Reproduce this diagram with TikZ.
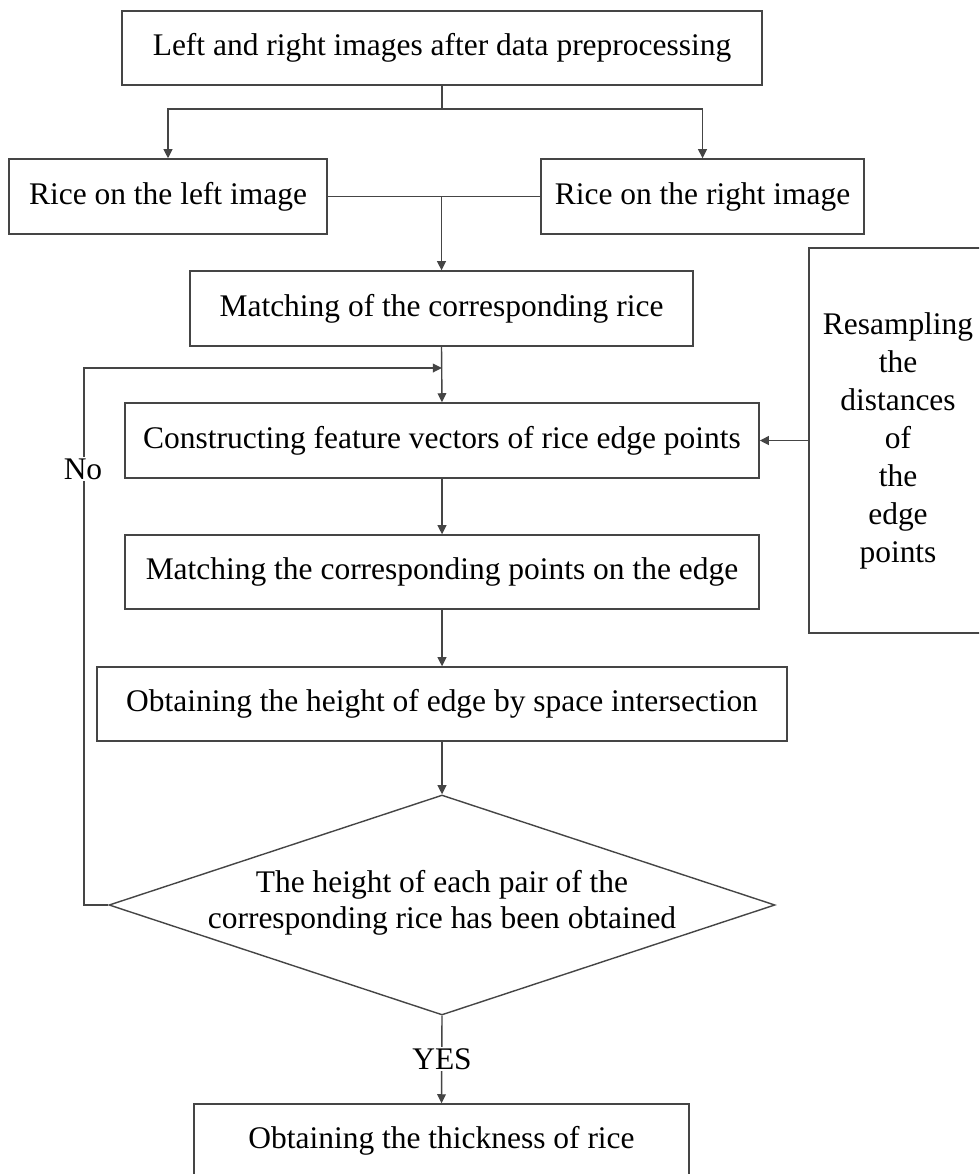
\documentclass[tikz,border=0pt]{standalone}
\usepackage{fontspec}
\setmainfont{Liberation Serif}
\usetikzlibrary{arrows.meta,shapes.geometric}
\definecolor{linegray}{HTML}{454545}
\begin{document}
\begin{tikzpicture}[x=0.75pt,y=-0.75pt,
  every node/.style={font=\fontsize{23.6pt}{28.5pt}\selectfont, text=black},
  box/.style={draw=linegray, line width=1.05pt, inner sep=0pt, minimum height=55.5pt, align=center},
  conn/.style={draw=linegray, line width=1.05pt},
  arr/.style={conn, -{Triangle[length=6.8pt,width=6.5pt]}},
  lbl/.style={fill=white, inner sep=1pt}]
\clip (0,0) rectangle (979,1174);
\fill[white] (0,0) rectangle (979,1174);

\node[box, minimum width=480pt] (top) at (442,48) {Left and right images after data preprocessing};
\node[box, minimum width=238.5pt, minimum height=56.25pt] (left) at (168,196.5) {Rice on the left image};
\node[box, minimum width=242.25pt, minimum height=56.25pt] (right) at (702.5,196.5) {Rice on the right image};
\node[box, minimum width=377.25pt, minimum height=56.25pt] (match) at (441.5,308.5) {Matching of the corresponding rice};
\node[box, minimum width=475.5pt, minimum height=56.25pt] (construct) at (442,440.5) {Constructing feature vectors of rice edge points};
\node[box, minimum width=133.5pt, minimum height=288.75pt] (resample) at (898,440.5) {Resampling\\the\\distances\\of\\the\\edge\\points};
\node[box, minimum width=475.5pt] (matchpts) at (442,572) {Matching the corresponding points on the edge};
\node[box, minimum width=517.5pt] (height) at (442,704) {Obtaining the height of edge by space intersection};
\node[draw=linegray, line width=1.05pt, shape=diamond, inner sep=0pt, minimum width=499.5pt, minimum height=165pt] (dia) at (442,905) {};
\node[align=center, font=\fontsize{23.6pt}{27pt}\selectfont] (diatext) at (442,903) {The height of each pair of the\\corresponding rice has been obtained};
\node[box, minimum width=371.25pt] (final) at (441.5,1141) {Obtaining the thickness of rice};

% split from top
\coordinate (split) at (442,109);
\draw[conn] (top.south) -- (split);
\draw[arr] (split) -| (left.north);
\draw[arr] (split) -| (right.north);

% join left/right to matching
\draw[conn] (left.east) -- (right.west);
\draw[arr] (match.north |- left.east) -- (match.north);

% main chain
\draw[arr] (match.south) -- (construct.north);
\draw[arr] (construct.south) -- (matchpts.north);
\draw[arr] (matchpts.south) -- (height.north);
\draw[arr] (height.south) -- (dia.north);

% resampling feedback
\draw[arr] (resample.west) -- (construct.east);

% loop back (No)
\coordinate (lpl) at (84,368);
\coordinate (lp) at (442,368);
\draw[arr] (dia.west) -| (lpl) -- (lp);
\node[lbl] (no) at (83,469) {No};

% YES
\draw[arr] (dia.south) -- (final.north);
\node[lbl] (yes) at (442,1059) {YES};
\end{tikzpicture}
\end{document}
